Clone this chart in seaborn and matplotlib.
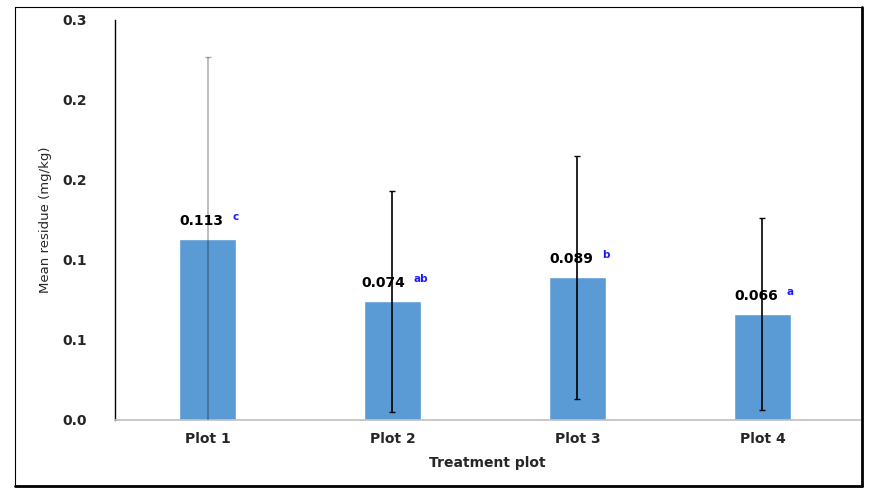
import numpy as np
import pandas as pd
import matplotlib
matplotlib.use("Agg")
import matplotlib.pyplot as plt
from matplotlib.lines import Line2D
import seaborn as sns

# data
plots = ["Plot 1", "Plot 2", "Plot 3", "Plot 4"]
mean_residue = [0.113, 0.074, 0.089, 0.066]
sd_residue = [0.114, 0.069, 0.076, 0.060]
letters = ["c", "ab", "b", "a"]
value_labels = ["0.113", "0.074", "0.089", "0.066"]
y_ticks = [0.0, 0.05, 0.10, 0.15, 0.20, 0.25]
y_tick_labels = ["0.0", "0.1", "0.1", "0.2", "0.2", "0.3"]

sns.set_style("white")
plt.rcParams["font.family"] = ["DejaVu Sans"]

df = pd.DataFrame({"plot": plots, "mean": mean_residue, "sd": sd_residue})

fig = plt.figure(figsize=(8.78, 4.94), dpi=100)
ax = fig.add_axes([0.131, 0.150, 0.849, 0.810])

sns.barplot(data=df, x="plot", y="mean", color="#5B9BD5", saturation=1,
            width=0.31, ax=ax, errorbar=None)

# error bars (first one drawn lighter, like the original)
for i, (m, s) in enumerate(zip(mean_residue, sd_residue)):
    col = (0, 0, 0, 0.3) if i == 0 else (0, 0, 0, 1)
    ax.errorbar(i, m, yerr=s, fmt="none", ecolor=col, elinewidth=1.2,
                capsize=2, capthick=1, zorder=3)
    shift = -(7 + 6 * len(letters[i])) / 2
    ax.annotate(value_labels[i], (i, m), xytext=(shift, 11),
                textcoords="offset pixels", ha="center", va="bottom",
                fontsize=10, fontweight="bold", color="black", zorder=4)
    ax.annotate(letters[i], (i, m), xytext=(shift + 31, 17),
                textcoords="offset pixels", ha="left", va="bottom",
                fontsize=7.5, fontweight="bold", color="#1a1aff", zorder=4)

ax.set_ylim(0, 0.25)
ax.set_xlim(-0.5, 3.53)
ax.set_yticks(y_ticks)
ax.set_yticklabels(y_tick_labels)
ax.tick_params(axis="y", length=0, pad=20, labelsize=10)
ax.tick_params(axis="x", length=0, pad=9, labelsize=10)
for lab in ax.get_xticklabels() + ax.get_yticklabels():
    lab.set_fontweight("bold")

ax.set_xlabel("Treatment plot", fontsize=10, fontweight="bold", labelpad=7)
ax.set_ylabel("Mean residue (mg/kg)", fontsize=9.5, labelpad=8)

for side in ["top", "right"]:
    ax.spines[side].set_visible(False)
ax.spines["left"].set_color("black")
ax.spines["left"].set_linewidth(1.0)
ax.spines["bottom"].set_color("#bfbfbf")
ax.spines["bottom"].set_linewidth(1.2)

# outer frame of the figure (thicker right/bottom like a shadow)
W, H = 878.0, 494.0
x0, x1 = 15 / W, 862 / W
y0, y1 = 1 - 486 / H, 1 - 7 / H
fig.add_artist(Line2D([x0, x1], [y1, y1], color="black", lw=0.8, transform=fig.transFigure))
fig.add_artist(Line2D([x0, x0], [y0, y1], color="black", lw=0.8, transform=fig.transFigure))
fig.add_artist(Line2D([x0, x1], [y0, y0], color="black", lw=2.0, transform=fig.transFigure))
fig.add_artist(Line2D([x1, x1], [y0, y1], color="black", lw=2.0, transform=fig.transFigure))

fig.savefig("out.png", dpi=100)
